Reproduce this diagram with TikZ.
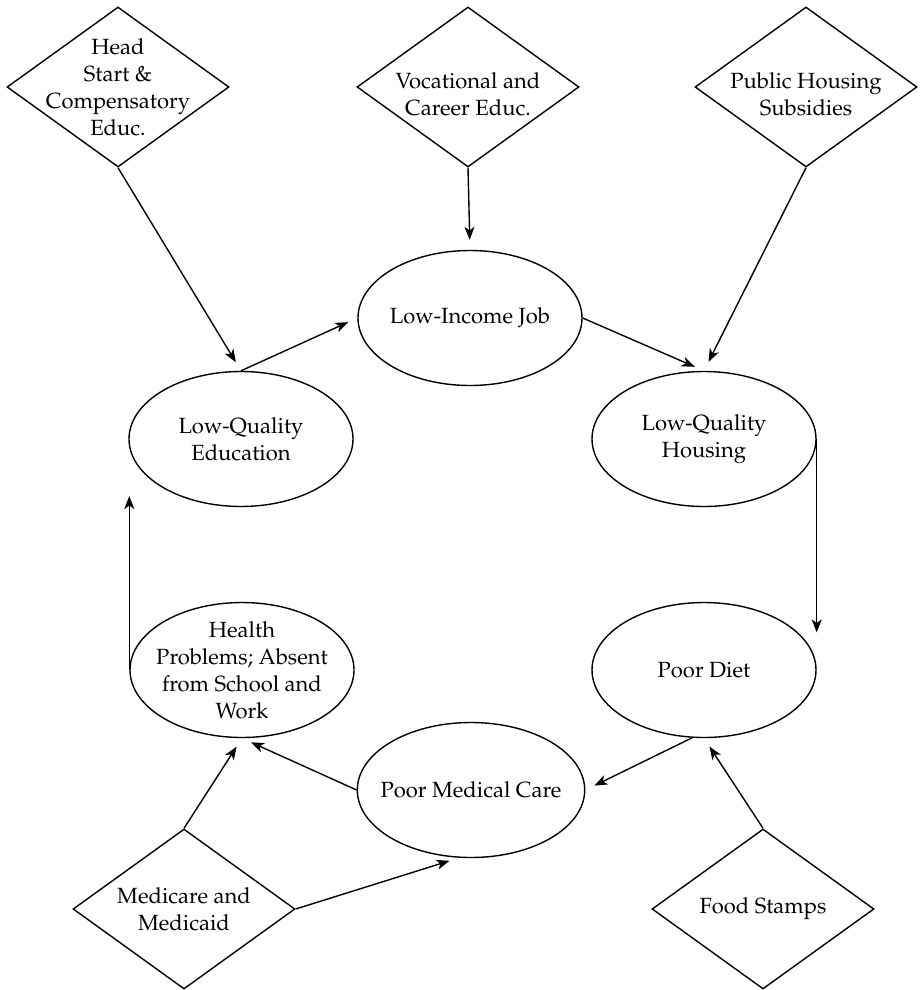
\documentclass[tikz,border=0pt]{standalone}
\usepackage[T1]{fontenc}
\usepackage{mathpazo}
\usetikzlibrary{arrows.meta,shapes.geometric}

\begin{document}
\begin{tikzpicture}[x=0.5pt,y=-0.5pt,line width=0.7pt,
    txt/.style={align=center,font=\fontsize{11}{13.5}\selectfont},
    blob/.style={txt,draw,ellipse,minimum width=112pt,minimum height=67.5pt,inner sep=-5pt},
    gem/.style={txt,draw,diamond,minimum width=111pt,minimum height=80pt,inner sep=-12pt},
    arr/.style={-{Stealth[length=6.5pt,width=5pt,inset=1.8pt]},shorten >=5pt}]
  \useasboundingbox (0,0) rectangle (920,990);
  % cycle
  \foreach \nm/\x/\y/\lab in {
    job/470/318/{Low-Income Job},
    edu/241/439/{Low-Quality\\Education},
    hous/704/439/{Low-Quality\\Housing},
    diet/704/670/{Poor Diet},
    health/242/670/{Health\\Problems; Absent\\from School and\\Work},
    med/471/790/{Poor Medical Care}} {
    \node[blob] (\nm) at (\x,\y) {\lab};
  }
  % programs
  \foreach \nm/\x/\y/\lab in {
    head/118/87/{Head\\Start \&\\Compensatory\\Educ.},
    voc/468/87/{\rule{0pt}{15pt}Vocational and\\Career Educ.},
    pub/806/87/{\rule{0pt}{15pt}Public Housing\\Subsidies},
    care/184/909/{Medicare and\\Medicaid},
    food/763/909/{Food Stamps}} {
    \node[gem] (\nm) at (\x,\y) {\lab};
  }
  \draw[arr] (edu.north) -- (job.west);
  \draw[arr] (job.east) -- (hous.north);
  \draw[arr] (hous.east) -- (hous.east |- diet.15);
  \draw[arr] (diet.260) -- (med.east);
  \draw[arr] (med.west) -- (health.south);
  \draw[arr] (health.west) -- (health.west |- edu.210);
  \draw[arr] (head.south) -- (edu.north);
  \draw[arr] (voc.south) -- (job.north);
  \draw[arr] (pub.south) -- (hous.north);
  \draw[arr] (care.north) -- (health.south);
  \draw[arr] (care.east) -- (med.260);
  \draw[arr] (food.north) -- (diet.south);
\end{tikzpicture}
\end{document}
